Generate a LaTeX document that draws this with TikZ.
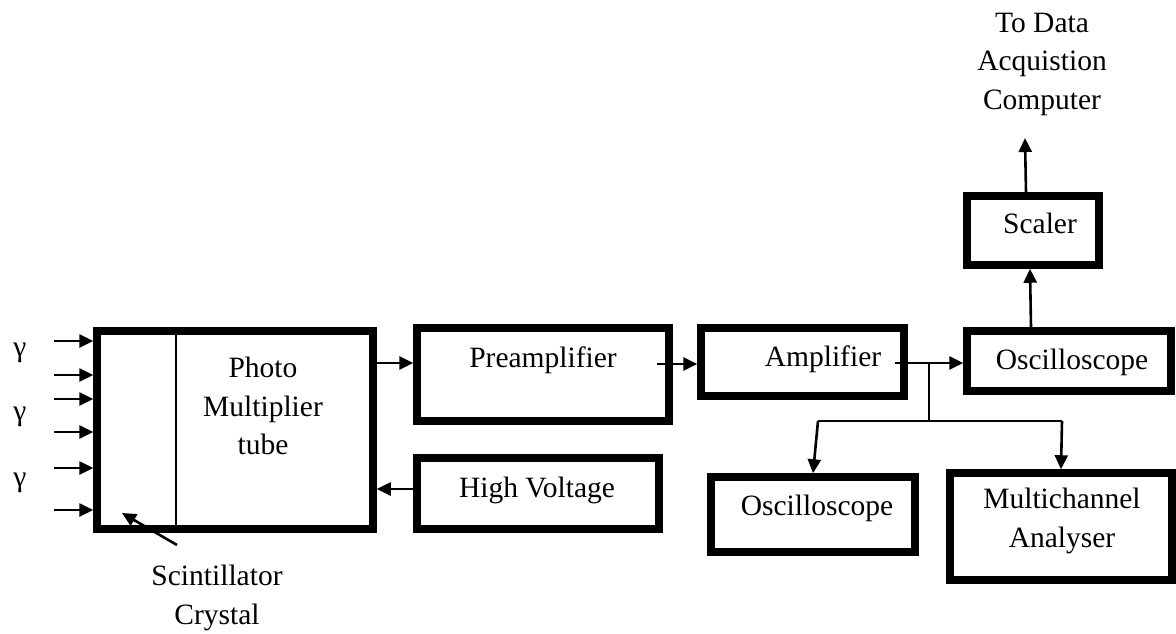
\documentclass[tikz,border=0pt]{standalone}
\usepackage{fontspec}
\setmainfont{Liberation Serif}
\usetikzlibrary{arrows.meta}
\begin{document}
\begin{tikzpicture}[x=1pt,y=-1pt,
  box/.style={draw, line width=7.5pt, inner sep=0pt},
  lbl/.style={inner sep=0pt, align=center, font=\fontsize{29.5}{38.5}\selectfont},
  conn/.style={line width=2.6pt, -{Triangle[length=14pt,width=13pt]}},
  wire/.style={line width=2.2pt}]
\path[use as bounding box, fill=white] (0,0) rectangle (1176,633);
% boxes
\node[box, minimum width=276pt, minimum height=198pt] (pmt) at (235,430) {};
\node[box, minimum width=252pt, minimum height=93pt] (pre) at (543,374.5) {};
\node[box, minimum width=242pt, minimum height=71pt] (hv) at (538,493.5) {};
\node[box, minimum width=203pt, minimum height=68pt] (amp) at (802.5,362) {};
\node[box, minimum width=204pt, minimum height=60pt] (osca) at (1069,361) {};
\node[box, minimum width=204pt, minimum height=75pt] (oscb) at (813,514.5) {};
\node[box, minimum width=222pt, minimum height=107pt] (mca) at (1061,526.5) {};
\node[box, minimum width=132pt, minimum height=69pt] (scaler) at (1033,230.5) {};
% divider
\draw[line width=1.5pt] (176,0 |- pmt.north) -- (176,0 |- pmt.south);
% texts
\node[lbl] (tpmt) at (263,406) {Photo\\Multiplier\\tube};
\node[lbl] (tpre) at (543,360) {Preamplifier};
\node[lbl] (thv) at (537,490) {High Voltage};
\node[lbl] (tamp) at (823,359) {Amplifier};
\node[lbl] (tosca) at (1072,362) {Oscilloscope};
\node[lbl] (toscb) at (817,508) {Oscilloscope};
\node[lbl] (tmca) at (1062,521) {Multichannel\\Analyser};
\node[lbl] (tscaler) at (1040,223) {Scaler};
\node[lbl] (tdaq) at (1042,64) {To Data\\Acquistion\\Computer};
\node[lbl] (tscint) at (217,598) {Scintillator\\Crystal};
\node[lbl] (gA) at (20,353) {γ};
\node[lbl] (gB) at (20,417) {γ};
\node[lbl] (gC) at (20,483) {γ};
% gamma arrows
\foreach \i/\y in {1/341,2/375,3/399,4/432,5/468,6/510}{
  \coordinate (g\i) at (54,\y);
  \draw[conn] (g\i) -- (g\i -| pmt.west);
}
% chain
\coordinate (ya) at (0,363);
\draw[conn] (pmt.east |- ya) -- (pre.west |- ya);
\coordinate (pa) at (657,364);
\draw[conn] (pa) -- (amp.west |- pa);
\coordinate (ao) at (895,363);
\draw[conn] (ao) -- (osca.west |- ao);
\coordinate (br) at (929,363);
\coordinate (bd) at (929,421);
\coordinate (bl) at (818,421);
\coordinate (brr) at (1062,421);
\draw[wire] (br) -- (bd);
\draw[wire] (bl) -- (brr);
\draw[conn] (bl) -- (oscb.north);
\draw[conn] (brr) -- (mca.north);
\coordinate (yh) at (0,489);
\draw[conn] (hv.west |- yh) -- (pmt.east |- yh);
\draw[conn] (1031,0 |- osca.north) -- (1030,0 |- scaler.south);
\coordinate (top) at (1025,138);
\draw[conn] (1026,0 |- scaler.north) -- (top);
\coordinate (sc) at (177,545);
\coordinate (sct) at (122,513);
\draw[conn] (sc) -- (sct);
\end{tikzpicture}
\end{document}
